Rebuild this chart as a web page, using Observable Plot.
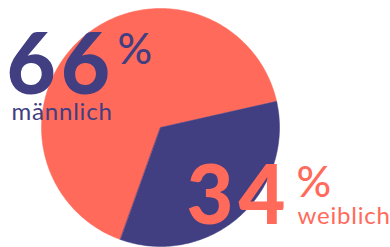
<!DOCTYPE html>
<html>
<head>
<meta charset="utf-8">
<script src="https://cdn.jsdelivr.net/npm/d3@7"></script>
<script src="https://cdn.jsdelivr.net/npm/@observablehq/plot@0.6"></script>
<style>
  html, body { margin: 0; padding: 0; background: #fff; }
  #chart svg { display: block; }
</style>
</head>
<body>
<div id="chart"></div>
<script>
// Data
const categories = ["männlich", "weiblich"];
const shares = [66, 34];

// Palette (colour scale range)
const CORAL = "#FF6A5B";
const NAVY = "#413E81";

// Pie geometry (in scale units = pixels)
const R = 119;
const START = -160.3 * Math.PI / 180;

const arcs = d3.pie().sort(null).startAngle(START).endAngle(START + 2 * Math.PI)(shares);
const slicePoints = [];
arcs.forEach((a, i) => {
  slicePoints.push({category: categories[i], x: 0, y: 0});
  const steps = Math.max(2, Math.ceil((a.endAngle - a.startAngle) / (Math.PI / 180)));
  for (let k = 0; k <= steps; k++) {
    const t = a.startAngle + (a.endAngle - a.startAngle) * k / steps;
    slicePoints.push({category: categories[i], x: R * Math.sin(t), y: R * Math.cos(t)});
  }
});

const labels = categories.map((c, i) => ({category: c, share: shares[i]}));
const male = [labels[0]];
const female = [labels[1]];

const NUMFONT = "Lato, sans-serif";

const chart = Plot.plot({
  width: 390,
  height: 247,
  margin: 0,
  style: {background: "#fff", fontFamily: NUMFONT},
  x: {domain: [-160, 230], range: [0, 390], axis: null},
  y: {domain: [-120, 127], range: [247, 0], axis: null},
  color: {domain: categories, range: [CORAL, NAVY]},
  marks: [
    Plot.line(slicePoints, {x: "x", y: "y", z: "category", fill: "category", stroke: "category", strokeWidth: 0.5, curve: "linear-closed"}),
    // 66 %
    Plot.text(male, {frameAnchor: "top-left", textAnchor: "start", lineAnchor: "bottom", dx: 6, dy: 93,
      text: d => String(d.share), fill: NAVY, fontSize: 85, fontWeight: 900, fontFamily: NUMFONT}),
    Plot.text(male, {frameAnchor: "top-left", textAnchor: "start", lineAnchor: "bottom", dx: 117, dy: 63,
      text: () => "%", fill: NAVY, fontSize: 43, fontWeight: 500, fontFamily: NUMFONT}),
    Plot.text(male, {frameAnchor: "top-left", textAnchor: "start", lineAnchor: "bottom", dx: 11, dy: 119,
      text: "category", fill: NAVY, fontSize: 24, fontWeight: 400, fontFamily: NUMFONT}),
    // 34 %
    Plot.text(female, {frameAnchor: "top-left", textAnchor: "start", lineAnchor: "bottom", dx: 186, dy: 223,
      text: d => String(d.share), fill: CORAL, fontSize: 81, fontWeight: 900, fontFamily: NUMFONT}),
    Plot.text(female, {frameAnchor: "top-left", textAnchor: "start", lineAnchor: "bottom", dx: 296, dy: 196,
      text: () => "%", fill: CORAL, fontSize: 43, fontWeight: 500, fontFamily: NUMFONT}),
    Plot.text(female, {frameAnchor: "top-left", textAnchor: "start", lineAnchor: "bottom", dx: 297, dy: 223,
      text: "category", fill: CORAL, fontSize: 24, fontWeight: 400, fontFamily: NUMFONT})
  ]
});
// letter spacing to approximate the wide geometric face of the original
const textGroups = chart.querySelectorAll('g[aria-label="text"]');
[0, 3].forEach(i => textGroups[i] && (textGroups[i].style.letterSpacing = "5px"));
[2, 5].forEach(i => textGroups[i] && (textGroups[i].style.letterSpacing = "0.8px"));
document.getElementById("chart").appendChild(chart);
</script>
</body>
</html>
